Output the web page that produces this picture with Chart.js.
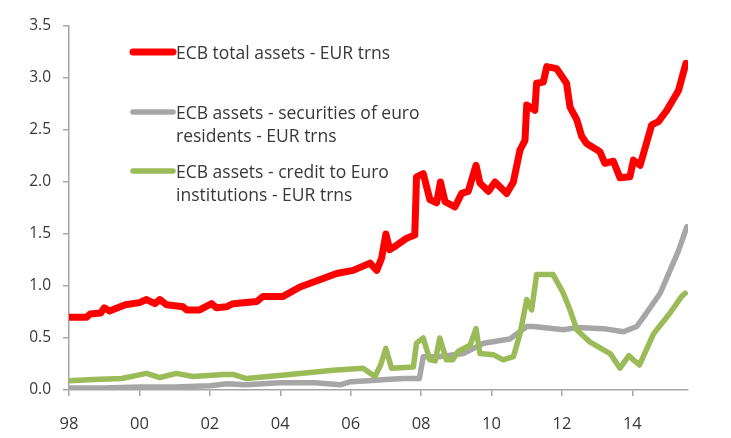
<!DOCTYPE html>
<html>
<head>
<meta charset="utf-8">
<script src="https://cdn.jsdelivr.net/npm/chart.js@4/dist/chart.umd.min.js"></script>
<style>
  html, body { margin: 0; padding: 0; background: #fff; }
  #wrap { width: 731px; height: 438px; }
</style>
</head>
<body>
<div id="wrap"><canvas id="chart"></canvas></div>
<script>
// Data (years as decimals, values in EUR trn)
const totalYears = [1998.0, 1998.5, 1998.6, 1998.9, 1999.0, 1999.15, 1999.6, 2000.0, 2000.2, 2000.44, 2000.58, 2000.77,
  2001.24, 2001.34, 2001.71, 2002.05, 2002.19, 2002.47, 2002.66, 2003.33, 2003.51, 2004.08, 2004.56, 2005.12,
  2005.6, 2006.07, 2006.55, 2006.74, 2006.88, 2007.0, 2007.11, 2007.3, 2007.59, 2007.82, 2007.87, 2008.06,
  2008.25, 2008.44, 2008.55, 2008.68, 2008.96, 2009.15, 2009.34, 2009.56, 2009.67, 2009.91, 2010.1, 2010.43,
  2010.62, 2010.81, 2010.95, 2011.0, 2011.23, 2011.28, 2011.47, 2011.57, 2011.85, 2012.13, 2012.23, 2012.42,
  2012.56, 2012.7, 2013.08, 2013.22, 2013.46, 2013.65, 2013.93, 2014.03, 2014.22, 2014.55, 2014.74, 2014.98,
  2015.31, 2015.52];
const totalAssets = [0.70, 0.70, 0.73, 0.74, 0.79, 0.76, 0.82, 0.84, 0.87, 0.83, 0.87, 0.82,
  0.80, 0.77, 0.77, 0.83, 0.79, 0.80, 0.83, 0.85, 0.90, 0.90, 0.99, 1.06,
  1.12, 1.15, 1.22, 1.15, 1.27, 1.50, 1.35, 1.39, 1.46, 1.49, 2.05, 2.08,
  1.83, 1.80, 2.00, 1.81, 1.76, 1.89, 1.91, 2.16, 1.99, 1.91, 2.00, 1.89,
  2.00, 2.31, 2.40, 2.74, 2.69, 2.95, 2.96, 3.11, 3.09, 2.95, 2.72, 2.60,
  2.44, 2.37, 2.29, 2.18, 2.20, 2.04, 2.05, 2.21, 2.16, 2.55, 2.58, 2.69,
  2.88, 3.14];

const secYears = [1998.0, 1999.0, 2000.0, 2001.0, 2002.0, 2002.5, 2003.0, 2004.0, 2005.0, 2005.7, 2006.0, 2006.5,
  2007.0, 2007.5, 2007.95, 2008.06, 2008.5, 2009.2, 2009.77, 2010.52, 2011.0, 2011.2, 2012.04, 2012.42,
  2013.18, 2013.75, 2014.12, 2014.4, 2014.79, 2015.07, 2015.3, 2015.55];
const securities = [0.02, 0.02, 0.03, 0.03, 0.04, 0.06, 0.05, 0.07, 0.07, 0.05, 0.08, 0.09,
  0.10, 0.11, 0.11, 0.32, 0.32, 0.35, 0.45, 0.49, 0.61, 0.61, 0.58, 0.60,
  0.59, 0.56, 0.61, 0.74, 0.93, 1.15, 1.33, 1.57];

const creditYears = [1998.0, 1998.69, 1999.5, 2000.2, 2000.58, 2001.05, 2001.52, 2002.38, 2002.66, 2003.04, 2004.27, 2005.5,
  2006.35, 2006.69, 2006.85, 2007.0, 2007.16, 2007.78, 2007.87, 2008.06, 2008.25, 2008.4, 2008.53, 2008.72,
  2008.9, 2009.05, 2009.39, 2009.56, 2009.67, 2010.05, 2010.33, 2010.62, 2010.81, 2011.0, 2011.14, 2011.28,
  2011.75, 2012.04, 2012.23, 2012.42, 2012.8, 2013.37, 2013.65, 2013.9, 2014.03, 2014.2, 2014.6, 2015.07,
  2015.4, 2015.5];
const credit = [0.09, 0.10, 0.11, 0.16, 0.12, 0.16, 0.13, 0.15, 0.15, 0.11, 0.15, 0.19,
  0.21, 0.13, 0.24, 0.40, 0.21, 0.22, 0.45, 0.50, 0.29, 0.28, 0.50, 0.29,
  0.29, 0.37, 0.43, 0.59, 0.35, 0.34, 0.29, 0.32, 0.54, 0.87, 0.77, 1.11,
  1.11, 0.93, 0.77, 0.58, 0.46, 0.35, 0.21, 0.33, 0.29, 0.24, 0.54, 0.74,
  0.90, 0.93];

const seriesLabels = [
  ['ECB total assets - EUR trns'],
  ['ECB assets - securities of euro', 'residents - EUR trns'],
  ['ECB assets - credit to Euro', 'institutions - EUR trns']
];
const yTicks = [0, 0.5, 1.0, 1.5, 2.0, 2.5, 3.0, 3.5];
const xTicks = [1998, 2000, 2002, 2004, 2006, 2008, 2010, 2012, 2014];

function toPoints(xs, ys) {
  return xs.map((x, i) => ({ x: x, y: ys[i] }));
}

const fontFamily = '"Open Sans", "Noto Sans", sans-serif';
const axisColor = '#a6a6a6';
const textColor = '#383838';

// legend drawn inside the plot, line sample on the left, text on the right
const innerLegend = {
  id: 'innerLegend',
  afterDraw(chart) {
    const ctx = chart.ctx;
    const rows = [52, 112, 171];
    ctx.save();
    ctx.font = '17.5px ' + fontFamily;
    ctx.textBaseline = 'middle';
    ctx.fillStyle = textColor;
    chart.data.datasets.forEach((ds, i) => {
      const y = rows[i];
      ctx.strokeStyle = ds.borderColor;
      ctx.lineWidth = ds.borderWidth;
      ctx.lineCap = 'round';
      ctx.beginPath();
      ctx.moveTo(133, y);
      ctx.lineTo(173, y);
      ctx.stroke();
      seriesLabels[i].forEach((line, j) => {
        ctx.fillText(line, 176, y + 2 + j * 23);
      });
    });
    ctx.restore();
  }
};

const ctx = document.getElementById('chart').getContext('2d');
const chart = new Chart(ctx, {
  type: 'line',
  data: {
    datasets: [
      { label: seriesLabels[0].join(' '), data: toPoints(totalYears, totalAssets), borderColor: '#ff0000', borderWidth: 7, order: 0 },
      { label: seriesLabels[1].join(' '), data: toPoints(secYears, securities), borderColor: '#a6a6a6', borderWidth: 5.5, order: 2 },
      { label: seriesLabels[2].join(' '), data: toPoints(creditYears, credit), borderColor: '#9bbb59', borderWidth: 5.5, order: 1 }
    ]
  },
  options: {
    responsive: true,
    maintainAspectRatio: false,
    animation: false,
    layout: { padding: { left: 0, right: 43, top: 26, bottom: 0 } },
    elements: {
      point: { radius: 0 },
      line: { tension: 0, borderJoinStyle: 'round', borderCapStyle: 'round' }
    },
    plugins: {
      legend: { display: false },
      tooltip: { enabled: false }
    },
    scales: {
      x: {
        type: 'linear',
        min: 1998,
        max: 2015.58,
        afterBuildTicks: (scale) => { scale.ticks = xTicks.map(v => ({ value: v })); },
        afterFit: (scale) => { scale.height = 48; },
        ticks: {
          color: textColor,
          font: { family: fontFamily, size: 16.5 },
          padding: 18,
          maxRotation: 0,
          callback: (v) => String(v).slice(2)
        },
        grid: { drawOnChartArea: false, tickLength: 6, color: axisColor, lineWidth: 1.5 },
        border: { color: axisColor, width: 1.5 }
      },
      y: {
        min: 0,
        max: 3.5,
        afterBuildTicks: (scale) => { scale.ticks = yTicks.map(v => ({ value: v })); },
        afterFit: (scale) => { scale.width = 69; },
        ticks: {
          color: textColor,
          font: { family: fontFamily, size: 15.5 },
          padding: 12,
          callback: (v) => v.toFixed(1)
        },
        grid: { drawOnChartArea: false, tickLength: 6, color: axisColor, lineWidth: 1.5 },
        border: { color: axisColor, width: 1.5 }
      }
    }
  },
  plugins: [innerLegend]
});
</script>
</body>
</html>
